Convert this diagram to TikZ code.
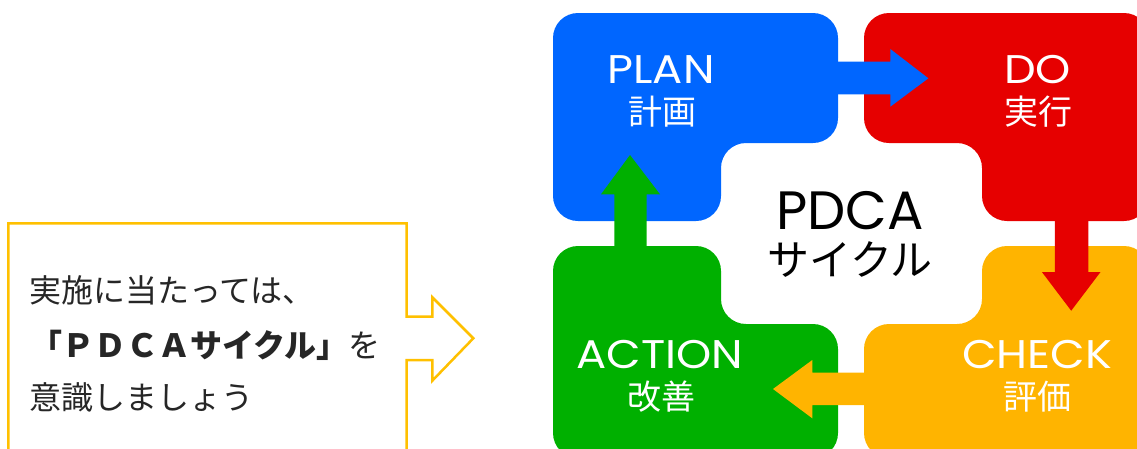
\documentclass[tikz,border=0pt]{standalone}
\usepackage{fontspec}
\newfontfamily\jp{Noto Sans CJK JP}
\newfontfamily\lat{Poppins}
\definecolor{pblue}{RGB}{0,102,255}
\definecolor{pred}{RGB}{230,0,0}
\definecolor{pgreen}{RGB}{0,176,0}
\definecolor{porange}{RGB}{255,180,0}
\definecolor{pyellow}{RGB}{255,192,0}
\newcommand{\wide}[1]{\scalebox{1.12}[1]{#1}}
\tikzset{
  blob/.style={rounded corners=25pt},
  entxt/.style={text=white, inner sep=0pt, anchor=base, font=\lat\fontsize{40}{42}\selectfont},
  jatxt/.style={text=white, inner sep=0pt, anchor=base, font=\jp\fontsize{34}{36}\selectfont},
  notetxt/.style={text=black!85, inner sep=0pt, anchor=base west, font=\jp\fontsize{32}{34}\selectfont},
  callout/.style={draw=pyellow, line width=2.5pt, miter limit=10}
}
\begin{document}
\begin{tikzpicture}[x=1pt,y=-1pt]
\useasboundingbox (0,0) rectangle (1137,448);
\clip (0,0) rectangle (1137,448);
% coloured blocks
\fill[pblue, blob] (553,13) -- (838,13) -- (838,143) -- (721,143) -- (721,221) -- (553,221) -- cycle;
\fill[pred, blob] (864,13) -- (1149,13) -- (1149,221) -- (982,221) -- (982,143) -- (864,143) -- cycle;
\fill[pgreen, blob] (553,246) -- (721,246) -- (721,324) -- (838,324) -- (838,458) -- (553,458) -- cycle;
\fill[porange, blob] (982,246) -- (1149,246) -- (1149,458) -- (864,458) -- (864,324) -- (982,324) -- cycle;
% arrows
\fill[pblue] (830,61.7) -- (890.3,61.7) -- (890.3,49) -- (928.4,78.3) -- (890.3,106.7) -- (890.3,94.3) -- (830,94.3) -- cycle;
\fill[pred] (1054.9,215) -- (1054.9,272) -- (1041.9,272) -- (1071.2,310.7) -- (1100.5,272) -- (1088.4,272) -- (1088.4,215) -- cycle;
\fill[porange] (870,372.7) -- (812.3,372.7) -- (812.3,360) -- (773,389) -- (812.3,418.3) -- (812.3,405) -- (870,405) -- cycle;
\fill[pgreen] (614.3,252) -- (614.3,194.3) -- (601,194.3) -- (630,155) -- (660,194.3) -- (646.6,194.3) -- (646.6,252) -- cycle;
% labels
\node[entxt] (plan) at (661,83) {\wide{PLAN}};
\node[jatxt] (planj) at (662,124.5) {計画};
\node[entxt] (do) at (1037.5,83) {\wide{DO}};
\node[jatxt] (doj) at (1038,124.5) {実行};
\node[entxt] (act) at (660,368) {\wide{ACTION}};
\node[jatxt] (actj) at (661,409) {改善};
\node[entxt] (chk) at (1037,368) {\wide{CHECK}};
\node[jatxt] (chkj) at (1037,409) {評価};
\node[inner sep=0pt, anchor=base, text depth=0pt, font=\lat\fontsize{54}{56}\selectfont] (pdca) at (850,229) {PDCA};
\node[inner sep=0pt, anchor=base, text height=32pt, font=\jp\fontsize{42}{44}\selectfont] (cyc) at (850,275) {サイクル};
% callout
\draw[callout] (8.3,470) -- (8.3,223.3) -- (406.7,223.3) -- (406.7,316.7) -- (432.3,316.7) -- (432.3,297.3) -- (473.3,338.3) -- (432.3,380.7) -- (432.3,360) -- (406.7,360) -- (406.7,470);
\node[notetxt] (l1) at (29,302) {実施に当たっては、};
\node[notetxt] (l2) at (30,357) {{\bfseries 「ＰＤＣＡサイクル」}を};
\node[notetxt] (l3) at (29,409) {意識しましょう};
\end{tikzpicture}
\end{document}
